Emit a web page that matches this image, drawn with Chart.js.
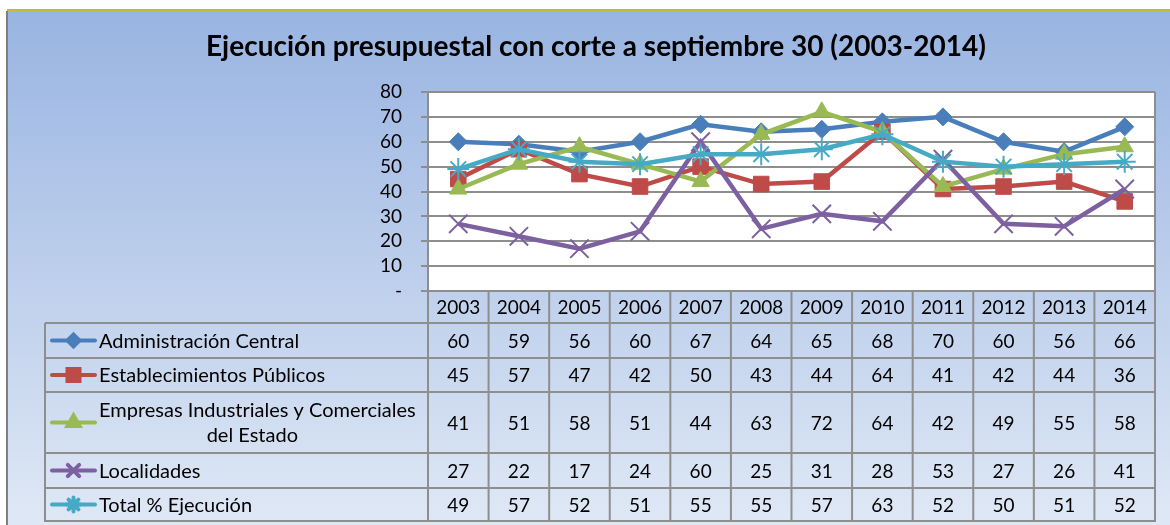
<!DOCTYPE html>
<html><head><meta charset="utf-8">
<script src="https://cdn.jsdelivr.net/npm/chart.js@4/dist/chart.umd.min.js"></script>
<style>html,body{margin:0;padding:0;background:#fff;overflow:hidden}#wrap{width:1170px;height:525px;position:relative}</style>
</head><body><div id="wrap"><canvas id="c" width="1170" height="525"></canvas></div>
<script>
const chartTitle = 'Ejecución presupuestal con corte a septiembre 30 (2003-2014)';
const years = ['2003','2004','2005','2006','2007','2008','2009','2010','2011','2012','2013','2014'];
const adminCentral = [60,59,56,60,67,64,65,68,70,60,56,66];
const establecimientos = [45,57,47,42,50,43,44,64,41,42,44,36];
const empresas = [41,51,58,51,44,63,72,64,42,49,55,58];
const localidades = [27,22,17,24,60,25,31,28,53,27,26,41];
const totalEjecucion = [49,57,52,51,55,55,57,63,52,50,51,52];
const seriesNames = ['Administración Central','Establecimientos Públicos','Empresas Industriales y Comerciales del Estado','Localidades','Total % Ejecución'];
const legendLines = [['Administración Central'],['Establecimientos Públicos'],['Empresas Industriales y Comerciales','del Estado'],['Localidades'],['Total % Ejecución']];
const yMin = 0, yMax = 80, yStep = 10;

const FONT = 'Lato, "Open Sans", sans-serif';
const colors = ['#4a7ebb','#be4b48','#98b954','#7d60a0','#46aac5'];
const styles = ['rectRot','rect','triangle','crossRot','star'];
const radii = [9,11,10,13,11];
const keyRadii = [6,8.5,7,8,7];
const seriesData = [adminCentral, establecimientos, empresas, localidades, totalEjecucion];

const rowEdges = [0,32,67,101,162,197,230];
const legendLeft = 45;
const gridCol = '#8e8e8e';

const bgPlugin = {
  id:'bg',
  beforeDraw(chart){
    const ctx = chart.ctx, a = chart.chartArea;
    ctx.save();
    ctx.fillStyle = '#fff'; ctx.fillRect(0,0,chart.width,chart.height);
    const g = ctx.createLinearGradient(0,10,0,chart.height);
    g.addColorStop(0,'#99b4e2'); g.addColorStop(1,'#dfe8f5');
    ctx.fillStyle = g; ctx.fillRect(7,10,chart.width-7,chart.height-10);
    ctx.fillStyle = '#c8b830'; ctx.fillRect(7,9,chart.width-7,2);
    ctx.fillStyle = '#7f7f7f'; ctx.fillRect(6,11,2,chart.height-11);
    ctx.fillStyle = '#fff'; ctx.fillRect(a.left,a.top,a.right-a.left,a.bottom-a.top);
    ctx.fillStyle = '#000';
    ctx.font = 'bold 28px ' + FONT;
    ctx.textAlign = 'center'; ctx.textBaseline = 'middle';
    ctx.fillText(chartTitle, 596, 47);
    ctx.restore();
  },
  afterDraw(chart){
    const ctx = chart.ctx, a = chart.chartArea, xs = chart.scales.x;
    const half = (xs.getPixelForValue(1) - xs.getPixelForValue(0)) / 2;
    const top = a.bottom;
    ctx.save();
    ctx.strokeStyle = gridCol; ctx.lineWidth = 2;
    ctx.beginPath(); ctx.moveTo(a.right, a.top); ctx.lineTo(a.right, a.bottom); ctx.stroke();
    ctx.beginPath();
    for (let r = 1; r < rowEdges.length; r++) {
      const y = top + rowEdges[r];
      ctx.moveTo(legendLeft, y); ctx.lineTo(a.right + 1, y);
    }
    for (let i = 0; i <= years.length; i++) {
      const x = i < years.length ? xs.getPixelForValue(i) - half : xs.getPixelForValue(years.length-1) + half;
      ctx.moveTo(x, top); ctx.lineTo(x, top + rowEdges[rowEdges.length-1] + 1);
    }
    ctx.moveTo(legendLeft, top + rowEdges[1]); ctx.lineTo(legendLeft, top + rowEdges[rowEdges.length-1] + 1);
    ctx.stroke();
    ctx.fillStyle = '#000'; ctx.font = '19px ' + FONT; ctx.textBaseline = 'middle'; ctx.textAlign = 'center';
    years.forEach((yr,i) => ctx.fillText(yr, xs.getPixelForValue(i), top + (rowEdges[0]+rowEdges[1])/2 + 1));
    seriesData.forEach((arr, s) => {
      const yc = top + (rowEdges[s+1] + rowEdges[s+2]) / 2 + 1;
      ctx.font = '19px ' + FONT;
      arr.forEach((v,i) => ctx.fillText(String(v), xs.getPixelForValue(i), yc));
      ctx.strokeStyle = colors[s]; ctx.fillStyle = colors[s]; ctx.lineWidth = 4; ctx.lineCap = 'round';
      ctx.beginPath(); ctx.moveTo(52, yc - 1); ctx.lineTo(95, yc - 1); ctx.stroke();
      Chart.helpers.drawPoint(ctx, {pointStyle: styles[s], radius: keyRadii[s], borderWidth: (s>=3?1.5:1), rotation: 0}, 73.5, yc - 1);
      ctx.fillStyle = '#000';
      ctx.font = '20px ' + FONT;
      const lines = legendLines[s];
      if (lines.length === 1) {
        ctx.textAlign = 'left'; ctx.fillText(lines[0], 99, yc);
      } else {
        ctx.textAlign = 'left'; ctx.fillText(lines[0], 99, yc - 12.5);
        const w = ctx.measureText(lines[0]).width;
        ctx.textAlign = 'center'; ctx.fillText(lines[1], 99 + w/2 - 5, yc + 12.5);
      }
      ctx.textAlign = 'center';
    });
    ctx.restore();
  }
};

new Chart(document.getElementById('c'), {
  type: 'line',
  data: {
    labels: years,
    datasets: seriesData.map((d, s) => ({
      label: seriesNames[s],
      data: d,
      borderColor: colors[s],
      backgroundColor: colors[s],
      borderWidth: 4.5,
      pointStyle: styles[s],
      pointRadius: radii[s],
      pointHoverRadius: radii[s],
      pointBackgroundColor: colors[s],
      pointBorderColor: colors[s],
      pointBorderWidth: s >= 3 ? 2 : 1,
      tension: 0,
      fill: false,
      order: 5 - s
    }))
  },
  options: {
    responsive: false,
    animation: false,
    devicePixelRatio: 1,
    layout: { padding: { left: 0, top: 92, right: 10, bottom: 234 } },
    plugins: { legend: { display: false }, tooltip: { enabled: false }, title: { display: false } },
    scales: {
      x: { display: false, offset: true },
      y: {
        min: yMin, max: yMax,
        ticks: { stepSize: yStep, autoSkip: false, color: '#000', font: { family: FONT, size: 19 }, padding: 19,
          callback: v => v === 0 ? '-' : String(v) },
        grid: { color: gridCol, lineWidth: 2, tickLength: 7, drawTicks: true },
        border: { display: true, color: gridCol, width: 2 },
        afterFit: sc => { sc.width = 428; }
      }
    }
  },
  plugins: [bgPlugin]
});
</script>
</body></html>
